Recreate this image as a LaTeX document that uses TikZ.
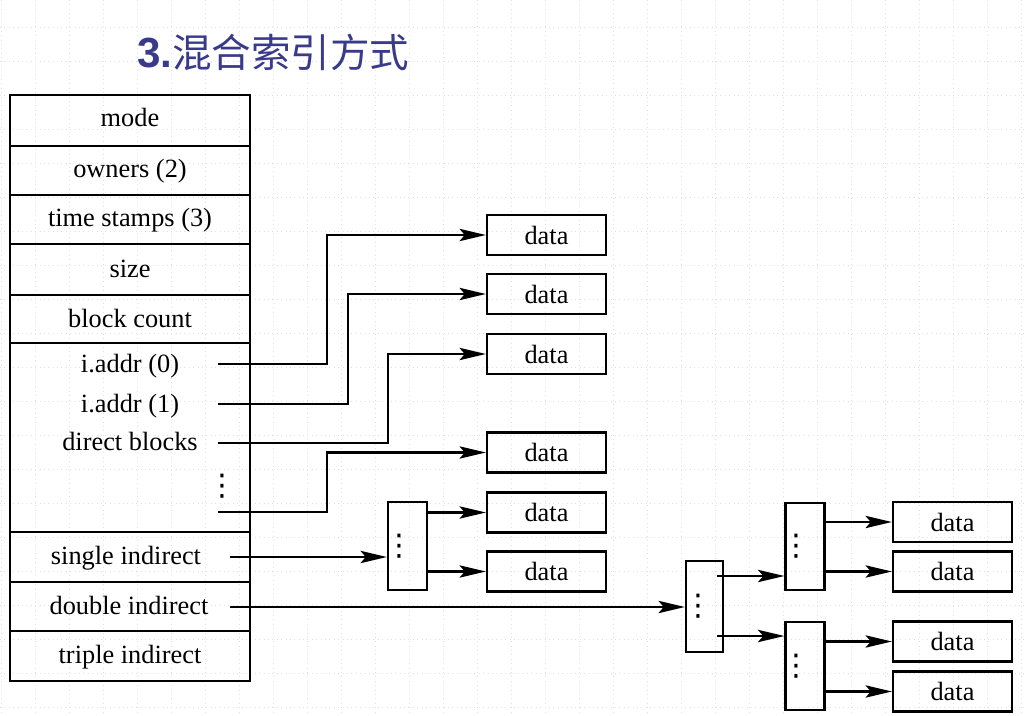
\documentclass[tikz,border=0pt]{standalone}
\usepackage{fontspec}
\setmainfont{Liberation Serif}
\newfontfamily\headsans{Liberation Sans}
\newfontfamily\cjk{Noto Sans CJK SC}
\newfontfamily\dotsfont{DejaVu Sans}
\usetikzlibrary{arrows.meta}
\definecolor{headblue}{RGB}{58,58,138}
\definecolor{gridline}{RGB}{222,222,240}
\newcommand{\vdotmark}{{\dotsfont\fontsize{17}{20}\selectfont ⋮}}

\begin{document}
\begin{tikzpicture}[x=0.02cm,y=-0.02cm,line width=1.3pt,
  font=\fontsize{15}{18}\selectfont,
  field/.style={anchor=base,inner sep=0pt},
  datablock/.style={draw,minimum width=2.38cm,minimum height=0.8cm,inner sep=0pt},
  idxblock/.style={draw,minimum width=0.78cm,inner sep=0pt},
  ptr/.style={-{Stealth[length=15pt,width=7pt,inset=3pt]}}]
\useasboundingbox (0,0) rectangle (1024,716);
\foreach \gx in {1,35,...,1024} \draw[gridline,dotted,line width=0.5pt] (\gx,0) -- (\gx,716);
\foreach \gy in {27,61,...,716} \draw[gridline,dotted,line width=0.5pt] (0,\gy) -- (1024,\gy);

\node[anchor=base west,inner sep=0pt,text=headblue] (title) at (136,68)
  {{\fontsize{24}{28}\headsans\bfseries 3.}{\fontsize{22.5}{26}\cjk 混合索引方式}};

\draw (10,95) rectangle (250,681);
\foreach \ry in {146,195,244,295,343,532,582,631} \draw (10,\ry) -- (250,\ry);

\node[field] (mode) at (130,127) {mode};
\node[field] (owners) at (130,178) {owners (2)};
\node[field] (stamps) at (130,227) {time stamps (3)};
\node[field] (size) at (130,277) {size};
\node[field] (count) at (130,327) {block count};
\node[field] (addr0) at (130,372) {i.addr (0)};
\node[field] (addr1) at (130,412) {i.addr (1)};
\node[field] (direct) at (130,450) {direct blocks};
\node (more) at (222,486) {\vdotmark};
\node[field] (single) at (126,564) {single indirect};
\node[field] (double) at (129,614) {double indirect};
\node[field] (triple) at (130,663) {triple indirect};

\coordinate (p0) at (218,364);
\coordinate (p1) at (218,404);
\coordinate (p2) at (218,443);
\coordinate (p3) at (218,512);
\coordinate (ps) at (230,557);
\coordinate (pd) at (230,607);
\coordinate (q1) at (717,576);
\coordinate (q2) at (717,636);

\node[datablock] (d1) at (546.5,235) {data};
\node[datablock] (d2) at (546.5,294) {data};
\node[datablock] (d3) at (546.5,354) {data};
\node[datablock] (d4) at (546.5,452.5) {data};
\node[datablock] (d5) at (546.5,512.5) {data};
\node[datablock] (d6) at (546.5,571.5) {data};
\node[datablock] (d7) at (952.5,522) {data};
\node[datablock] (d8) at (952.5,571.5) {data};
\node[datablock] (d9) at (952.5,641.5) {data};
\node[datablock] (d10) at (952.5,691.5) {data};

\node[idxblock,minimum height=1.76cm] (ind1) at (407.5,546) {\hspace*{-0.32cm}\vdotmark};
\node[idxblock,minimum width=0.74cm,minimum height=1.82cm] (ind2) at (704.5,606.5) {\hspace*{-0.26cm}\vdotmark};
\node[idxblock,minimum height=1.74cm] (ind3) at (805,546.5) {\hspace*{-0.34cm}\vdotmark};
\node[idxblock,minimum height=1.76cm] (ind4) at (805,666) {\hspace*{-0.34cm}\vdotmark};

\draw[ptr] (p0) -- (327,364) |- (d1);
\draw[ptr] (p1) -- (348,404) |- (d2);
\draw[ptr] (p2) -- (388,443) |- (d3);
\draw[ptr] (p3) -- (327,512) |- (d4);
\draw[ptr] (ps) -- (ind1.west |- ps);
\draw[ptr] (ind1.east |- d5) -- (d5);
\draw[ptr] (ind1.east |- d6) -- (d6);

\draw[ptr] (pd) -- (ind2.west |- pd);
\draw[ptr] (q1) -- (ind3.west |- q1);
\draw[ptr] (q2) -- (ind4.west |- q2);
\draw[ptr] (ind3.east |- d7) -- (d7);
\draw[ptr] (ind3.east |- d8) -- (d8);
\draw[ptr] (ind4.east |- d9) -- (d9);
\draw[ptr] (ind4.east |- d10) -- (d10);
\end{tikzpicture}
\end{document}
